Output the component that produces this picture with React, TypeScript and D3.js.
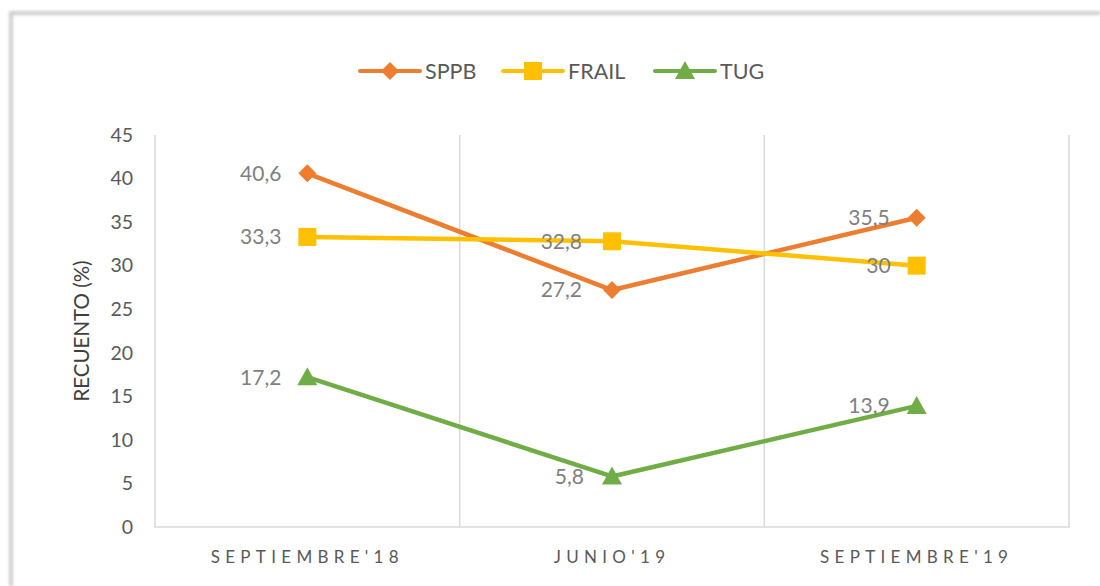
import React from "react";
import * as d3 from "d3";

const categories = ["SEPTIEMBRE'18", "JUNIO'19", "SEPTIEMBRE'19"];
const sppb = [40.6, 27.2, 35.5];
const frail = [33.3, 32.8, 30];
const tug = [17.2, 5.8, 13.9];
const yTicks = [0, 5, 10, 15, 20, 25, 30, 35, 40, 45];

const series = [
  { name: "SPPB", values: sppb, color: "#ED7D31", marker: "diamond" },
  { name: "FRAIL", values: frail, color: "#FFC000", marker: "square" },
  { name: "TUG", values: tug, color: "#70AD47", marker: "triangle" },
];

// label nudges (dx) per series/point, placed left of the marker
const labelNudge = [
  [-26, -30, -27],
  [-26, -30, -26],
  [-26, -28, -27],
];

const W = 1100;
const H = 586;
const m = { left: 155, right: 1069, top: 135, bottom: 527 };
const font = "Lato, 'Open Sans', sans-serif";
const grey = "#595959";

const Marker = ({ type, x, y, color }: { type: string; x: number; y: number; color: string }) => {
  if (type === "diamond") {
    const s = 9;
    return <path d={`M${x},${y - s}L${x + s},${y}L${x},${y + s}L${x - s},${y}Z`} fill={color} />;
  }
  if (type === "square") {
    const s = 9;
    return <rect x={x - s} y={y - s} width={s * 2} height={s * 2} fill={color} />;
  }
  const s = 10;
  return <path d={`M${x},${y - s}L${x + s},${y + s * 0.8}L${x - s},${y + s * 0.8}Z`} fill={color} />;
};

export default function App() {
  const x = d3.scaleBand().domain(categories).range([m.left, m.right]);
  const y = d3.scaleLinear().domain([0, 45]).range([m.bottom, m.top]);
  const cx = (c: string) => (x(c) as number) + x.bandwidth() / 2;
  const line = d3
    .line<number>()
    .x((_, i) => cx(categories[i]))
    .y((d) => y(d));

  const legendPos = [360, 503, 655];

  return (
    <svg width={W} height={H} style={{ position: "absolute", left: 0, top: 0, background: "#fff" }} fontFamily={font}>
      <defs>
        <filter id="sh" x="-10%" y="-10%" width="120%" height="120%">
          <feGaussianBlur stdDeviation="1.5" />
        </filter>
      </defs>
      {/* card edge */}
      <path d={`M11,${H}V13H${W}`} fill="none" stroke="#bbb" strokeWidth={3} filter="url(#sh)" />
      <path d={`M11,${H}V13H${W}`} fill="none" stroke="#e0e0e0" strokeWidth={1} />

      {/* legend */}
      {series.map((s, i) => (
        <g key={s.name}>
          <line x1={legendPos[i]} x2={legendPos[i] + 60} y1={71} y2={71} stroke={s.color} strokeWidth={4} strokeLinecap="round" />
          <Marker type={s.marker} x={legendPos[i] + 30} y={71} color={s.color} />
          <text x={legendPos[i] + 65} y={71} dy="0.35em" fontSize={21.5} fill={grey}>
            {s.name}
          </text>
        </g>
      ))}

      {/* category separators + frame */}
      {categories.map((c, i) =>
        i > 0 ? (
          <line key={c} x1={x(c)} x2={x(c)} y1={m.top} y2={m.bottom} stroke="#d9d9d9" strokeWidth={1.5} />
        ) : null
      )}
      <path d={`M${m.left},${m.top}V${m.bottom}H${m.right}V${m.top}`} fill="none" stroke="#d9d9d9" strokeWidth={1.5} />

      {/* y axis */}
      {yTicks.map((t) => (
        <text key={t} x={133} y={y(t)} dy="0.35em" textAnchor="end" fontSize={19.5} fill={grey}>
          {t}
        </text>
      ))}
      <text transform={`translate(82,${(m.top + m.bottom) / 2}) rotate(-90)`} dy="0.35em" textAnchor="middle" fontSize={20.5} fill="#404040">
        RECUENTO (%)
      </text>

      {/* x axis */}
      {categories.map((c) => (
        <text key={c} x={cx(c)} y={557} dy="0.35em" textAnchor="middle" fontSize={17} letterSpacing={5.3} fill={grey}>
          {c}
        </text>
      ))}

      {/* series */}
      {series.map((s) => (
        <path key={s.name} d={line(s.values) || ""} fill="none" stroke={s.color} strokeWidth={4.5} strokeLinejoin="round" />
      ))}
      {series.map((s) =>
        s.values.map((v, i) => <Marker key={s.name + i} type={s.marker} x={cx(categories[i])} y={y(v)} color={s.color} />)
      )}
      {series.map((s, si) =>
        s.values.map((v, i) => (
          <text
            key={"l" + s.name + i}
            x={cx(categories[i]) + labelNudge[si][i]}
            y={y(v)}
            dy="0.35em"
            textAnchor="end"
            fontSize={21}
            fill="#7f7f7f"
          >
            {String(v).replace(".", ",")}
          </text>
        ))
      )}
    </svg>
  );
}
